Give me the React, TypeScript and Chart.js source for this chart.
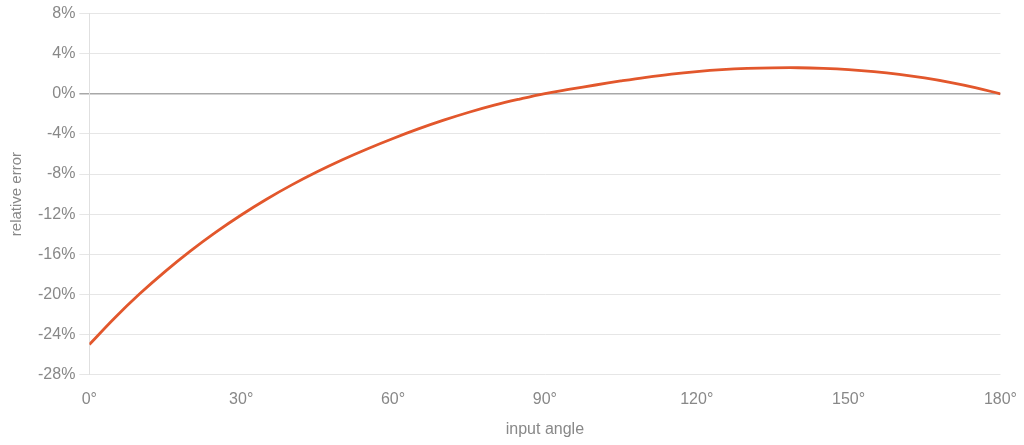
import React, { useEffect, useRef } from 'react';
import Chart from 'chart.js/auto';

// input angle in degrees
const angles = [
  0, 5, 10, 15, 20, 25, 30, 35, 40, 45, 50, 55, 60, 65, 70, 75, 80, 85, 90,
  95, 100, 105, 110, 115, 120, 125, 130, 135, 140, 145, 150, 155, 160, 165, 170, 175, 180,
];

// relative error in percent
const relativeError = [
  -25.0, -22.35, -19.92, -17.7, -15.66, -13.79, -12.08, -10.51, -9.08, -7.77, -6.57, -5.47,
  -4.45, -3.5, -2.63, -1.84, -1.13, -0.52, 0.03, 0.47, 0.88, 1.28, 1.65, 1.97, 2.22, 2.41,
  2.53, 2.59, 2.6, 2.54, 2.42, 2.22, 1.94, 1.58, 1.14, 0.62, 0.0,
];

const xTitle = 'input angle';
const yTitle = 'relative error';

const FONT = '"Liberation Sans", Arial, sans-serif';
const TEXT = '#888888';

const App: React.FC = () => {
  const canvasRef = useRef<HTMLCanvasElement>(null);

  useEffect(() => {
    document.body.style.margin = '0';
    if (!canvasRef.current) return;

    const chart = new Chart(canvasRef.current, {
      type: 'line',
      data: {
        datasets: [
          {
            label: 'relative error',
            data: angles.map((a, i) => ({ x: a, y: relativeError[i] })),
            borderColor: '#e2572c',
            backgroundColor: '#e2572c',
            borderWidth: 2.8,
            pointRadius: 0,
            tension: 0.4,
          },
        ],
      },
      options: {
        animation: false,
        responsive: false,
        layout: { padding: { top: 7, right: 9, bottom: 6, left: 8 } },
        plugins: { legend: { display: false }, tooltip: { enabled: false } },
        scales: {
          x: {
            type: 'linear',
            min: 0,
            max: 180,
            grid: { display: false },
            border: { display: false },
            ticks: {
              stepSize: 30,
              color: TEXT,
              padding: 7,
              font: { family: FONT, size: 16 },
              callback: (v) => `${v}°`,
            },
            title: {
              display: true,
              text: xTitle,
              color: TEXT,
              font: { family: FONT, size: 16 },
              padding: { top: 4, bottom: 0 },
            },
          },
          y: {
            type: 'linear',
            min: -28,
            max: 8,
            grid: {
              color: (ctx) => (ctx.tick && ctx.tick.value === 0 ? '#a8a8a8' : '#e6e6e6'),
              lineWidth: (ctx) => (ctx.tick && ctx.tick.value === 0 ? 1.5 : 1),
              tickLength: 10,
            },
            border: { display: true, color: '#e0e0e0' },
            ticks: {
              stepSize: 4,
              color: TEXT,
              padding: 4,
              font: { family: FONT, size: 16 },
              callback: (v) => `${v}%`,
            },
            title: {
              display: true,
              text: yTitle,
              color: TEXT,
              font: { family: FONT, size: 15 },
              padding: { top: 0, bottom: 8 },
            },
          },
        },
      },
    });

    return () => {
      chart.destroy();
    };
  }, []);

  return (
    <div style={{ width: 1024, height: 445 }}>
      <canvas ref={canvasRef} width={1024} height={445}></canvas>
    </div>
  );
};

export default App;
